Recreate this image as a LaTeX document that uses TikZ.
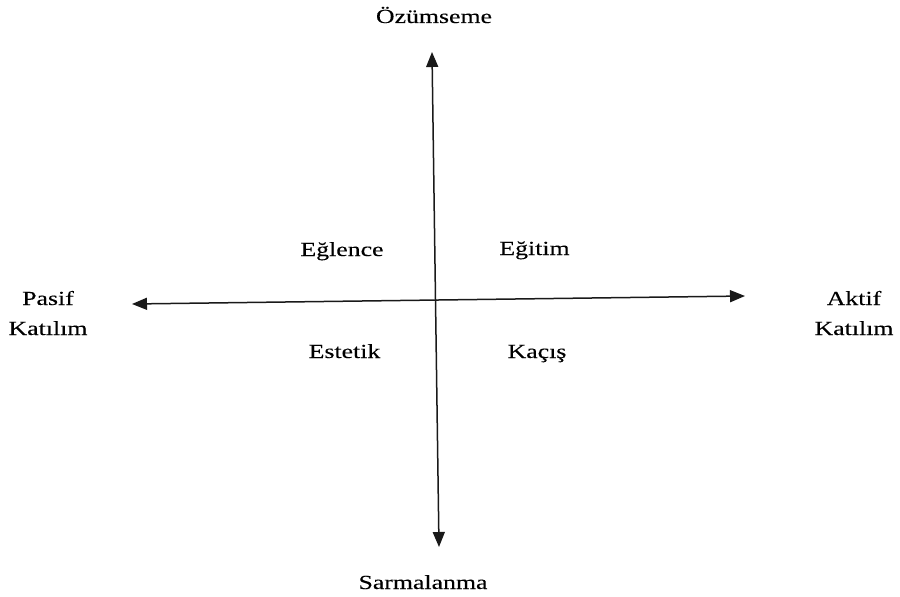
\documentclass[tikz,border=0pt]{standalone}
\usepackage{fontspec}
\setmainfont{Liberation Serif}[FakeStretch=1.29,FakeBold=0.15]
\usetikzlibrary{arrows.meta}
\begin{document}
\begin{tikzpicture}[x=1pt,y=-1pt,
  lbl/.style={inner sep=0pt,anchor=base,font=\fontsize{20}{30}\selectfont,text=black},
  axis/.style={line width=1.5pt,black!90,{Triangle[length=15pt,width=12pt]}-{Triangle[length=15pt,width=12pt]}}]
\useasboundingbox (0,0) rectangle (900,597);
\coordinate (top) at (432,52);
\coordinate (bot) at (439,547);
\coordinate (lft) at (132,304);
\coordinate (rgt) at (745,296);
\draw[axis] (top) -- (bot);
\draw[axis] (lft) -- (rgt);
\node[lbl] (oz) at (434,23) {Özümseme};
\node[lbl] (sar) at (423,589) {Sarmalanma};
\node[lbl] (pas) at (48,305) {Pasif};
\node[lbl] (pk) at (48,335) {Katılım};
\node[lbl] (akt) at (854,305) {Aktif};
\node[lbl] (ak) at (854,335) {Katılım};
\node[lbl] (egl) at (342,256) {Eğlence};
\node[lbl] (egi) at (534.5,255) {Eğitim};
\node[lbl] (est) at (344.5,358) {Estetik};
\node[lbl] (kac) at (537,358) {Kaçış};
\end{tikzpicture}
\end{document}
